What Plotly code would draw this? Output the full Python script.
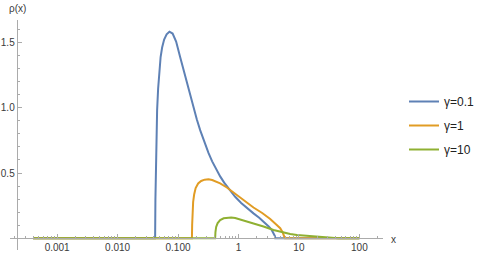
import plotly.graph_objects as go

# ---- data ----
x_blue = [0.0004, 0.04177, 0.04224, 0.04305, 0.04388, 0.04508, 0.04683, 0.04902, 0.05150,
          0.05454, 0.05888, 0.06477, 0.07207, 0.08137, 0.0930, 0.1083, 0.1362, 0.1692,
          0.2048, 0.2322, 0.2705, 0.3187, 0.3669, 0.4274, 0.4977, 0.5797, 0.6832, 0.8818,
          1.108, 1.393, 1.771, 2.201, 2.665, 3.162, 3.545, 3.826, 4.005, 4.052, 100]
y_blue = [0, 0, 0.293, 0.600, 0.814, 0.982, 1.145, 1.289, 1.388,
          1.461, 1.522, 1.562, 1.582, 1.568, 1.507, 1.388, 1.214, 1.044,
          0.910, 0.828, 0.740, 0.654, 0.589, 0.528, 0.474, 0.426, 0.381, 0.318,
          0.270, 0.229, 0.191, 0.158, 0.125, 0.090, 0.064, 0.041, 0.018, 0, 0]

x_orange = [0.0004, 0.1698, 0.1712, 0.1738, 0.1778, 0.1848, 0.1956, 0.2152, 0.2412, 0.2757,
            0.3187, 0.3669, 0.4274, 0.4977, 0.6426, 0.9408, 1.291, 1.771, 2.468, 3.349,
            4.209, 4.902, 5.393, 5.709, 5.864, 100]
y_orange = [0, 0, 0.102, 0.201, 0.278, 0.335, 0.385, 0.420, 0.439, 0.449,
            0.452, 0.446, 0.435, 0.421, 0.389, 0.332, 0.282, 0.236, 0.194, 0.148,
            0.106, 0.077, 0.044, 0.018, 0, 0]

x_green = [0.0004, 0.4113, 0.4160, 0.4274, 0.4525, 0.4977, 0.5688, 0.6500, 0.7569, 0.8818,
           1.067, 1.377, 1.771, 2.594, 3.797, 5.559, 7.178, 9.267, 15.39, 22.52,
           32.98, 44.75, 100]
y_green = [0, 0, 0.048, 0.087, 0.117, 0.140, 0.153, 0.158, 0.159, 0.155,
           0.144, 0.127, 0.113, 0.090, 0.064, 0.043, 0.033, 0.025, 0.016, 0.010,
           0.006, 0, 0]

series_names = ["γ=0.1", "γ=1", "γ=10"]
series_colors = ["#5E81B5", "#E19C24", "#8FB032"]

x_tick_vals = [0.001, 0.01, 0.1, 1, 10, 100]
x_tick_text = ["0.001", "0.010", "0.100", "1", "10", "100"]
y_tick_vals = [0.5, 1.0, 1.5]
y_tick_text = ["0.5", "1.0", "1.5"]

FONT = "Liberation Sans, Arial, sans-serif"
AXIS_COLOR = "#ababab"
TEXT_COLOR = "#3a3a3a"

fig = go.Figure()
for i, (xs, ys) in enumerate([(x_blue, y_blue), (x_orange, y_orange), (x_green, y_green)]):
    fig.add_trace(go.Scatter(
        x=xs, y=ys, mode="lines", name=series_names[i],
        line=dict(color=series_colors[i], width=2),
        legendgroup=f"g{i}",
    ))

minor_x = [m * 10 ** e for e in range(-4, 3) for m in range(2, 10)]
minor_y = [round(0.1 * k, 1) for k in range(1, 17) if k % 5 != 0]

fig.update_layout(
    width=488, height=255,
    margin=dict(l=10, r=105.3, t=20, b=5, autoexpand=False),
    paper_bgcolor="white", plot_bgcolor="white",
    font=dict(family=FONT, size=10, color=TEXT_COLOR),
    showlegend=True,
    legend=dict(
        xref="container", yref="container",
        x=404 / 488, y=1 - 87 / 255, xanchor="left", yanchor="top",
        font=dict(family=FONT, size=12, color="#222222"),
        tracegroupgap=5, bgcolor="rgba(0,0,0,0)",
    ),
    xaxis=dict(
        type="log", range=[-3.780, 2.391], automargin=False,
        anchor="free", position=0.0509,
        showline=True, linecolor=AXIS_COLOR, linewidth=1,
        showgrid=False, zeroline=False,
        ticks="inside", ticklen=4, tickcolor=AXIS_COLOR,
        tickvals=x_tick_vals, ticktext=x_tick_text,
        tickfont=dict(size=10, color=TEXT_COLOR),
        minor=dict(ticks="inside", ticklen=2.5, tickcolor=AXIS_COLOR, tickvals=minor_x, showgrid=False),
    ),
    yaxis=dict(
        range=[-0.0896, 1.6715], automargin=False,
        anchor="free", position=0.018,
        showline=True, linecolor=AXIS_COLOR, linewidth=1,
        showgrid=False, zeroline=False,
        ticks="inside", ticklen=4, tickcolor=AXIS_COLOR,
        tickvals=y_tick_vals, ticktext=y_tick_text,
        tickfont=dict(size=10, color=TEXT_COLOR),
        minor=dict(ticks="inside", ticklen=2.5, tickcolor=AXIS_COLOR, tickvals=minor_y, showgrid=False),
    ),
    annotations=[
        dict(text="ρ(x)", xref="paper", yref="paper", x=(17.5 - 10) / 372.7, y=1 + 12 / 230,
             showarrow=False, xanchor="center", yanchor="middle",
             font=dict(family=FONT, size=10, color=TEXT_COLOR)),
        dict(text="x", xref="paper", yref="paper", x=(393 - 10) / 372.7, y=(250 - 239) / 230,
             showarrow=False, xanchor="center", yanchor="middle",
             font=dict(family=FONT, size=10, color=TEXT_COLOR)),
    ],
)

fig.write_html("out.html", config={"displayModeBar": False},
               post_script="document.body.style.margin='0';")
